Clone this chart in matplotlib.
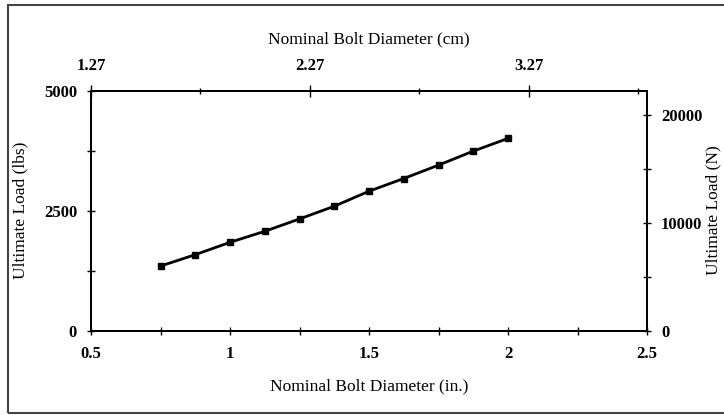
import matplotlib
matplotlib.use("Agg")
import matplotlib.pyplot as plt
from matplotlib.ticker import MultipleLocator, FixedLocator
from matplotlib.patches import Rectangle

plt.rcParams['font.family'] = ['Liberation Serif', 'DejaVu Serif']

# Data
diam_in = [0.75, 0.875, 1.0, 1.125, 1.25, 1.375, 1.5, 1.625, 1.75, 1.875, 2.0]
load_lbs = [1345, 1583, 1841, 2071, 2329, 2594, 2908, 3173, 3452, 3745, 4010]
left_ticks = [0, 2500, 5000]
bottom_ticks = [0.5, 1, 1.5, 2, 2.5]
top_ticks = [1.27, 2.27, 3.27]
right_ticks = [0, 10000, 20000]
LB_TO_N = 4.448

fig = plt.figure(figsize=(7.24, 4.15), dpi=100)
ax = fig.add_axes([91/724, 1-330.5/415, (647-91)/724, (330.5-91)/415])

ax.plot(diam_in, load_lbs, color='black', lw=2.0, marker='s', ms=5, mfc='black', mec='black')
ax.set_xlim(0.5, 2.5)
ax.set_ylim(0, 5000)

tick_font = dict(fontsize=12, fontweight='bold')
ax.xaxis.set_major_locator(FixedLocator(bottom_ticks))
ax.xaxis.set_minor_locator(MultipleLocator(0.25))
ax.yaxis.set_major_locator(FixedLocator(left_ticks))
ax.yaxis.set_minor_locator(MultipleLocator(1250))
ax.set_xticklabels(['0.5', '1', '1.5', '2', '2.5'], **tick_font)
ax.set_yticklabels(['0', '2500', '5000'], **tick_font)
ax.tick_params(axis='both', which='both', direction='inout', length=6, width=1.0, color='black')
ax.tick_params(axis='x', which='major', pad=8)
ax.tick_params(axis='y', which='major', pad=7)
ax.set_xlabel('Nominal Bolt Diameter (in.)', fontsize=12.5, labelpad=12)

# top axis (cm)
axt = ax.twiny()
axt.set_xlim(1.27, 3.81)
axt.xaxis.set_major_locator(FixedLocator(top_ticks))
axt.xaxis.set_minor_locator(FixedLocator([1.77, 2.77, 3.77]))
axt.set_xticklabels(['1.27', '2.27', '3.27'], **tick_font)
axt.tick_params(axis='x', which='major', direction='inout', length=8, width=1.0, pad=8)
axt.tick_params(axis='x', which='minor', direction='inout', length=5, width=1.0)
axt.set_xlabel('Nominal Bolt Diameter (cm)', fontsize=12.5, labelpad=11)

# right axis (N)
axr = ax.twinx()
axr.set_ylim(0, 5000 * LB_TO_N)
axr.yaxis.set_major_locator(FixedLocator(right_ticks))
axr.yaxis.set_minor_locator(FixedLocator([5000, 15000]))
axr.set_yticklabels(['0', '10000', '20000'], **tick_font)
axr.tick_params(axis='y', which='both', direction='inout', length=6, width=1.0, pad=7)

# y axis titles placed near the outer frame, as in the reference
fig.text(20/724, 1-210/415, 'Ultimate Load (lbs)', rotation=90, fontsize=12.5,
         ha='center', va='center')
fig.text(713/724, 1-210/415, 'Ultimate Load (N)', rotation=90, fontsize=12.5,
         ha='center', va='center')

for a in (ax, axt, axr):
    for s in a.spines.values():
        s.set_linewidth(1.2)
        s.set_color('black')

# outer frame
fig.patches.append(Rectangle((8/724, 2/415), 720/724, 408/415, transform=fig.transFigure,
                             fill=False, edgecolor='#444444', lw=1.5))

fig.savefig('out.png', dpi=100)
